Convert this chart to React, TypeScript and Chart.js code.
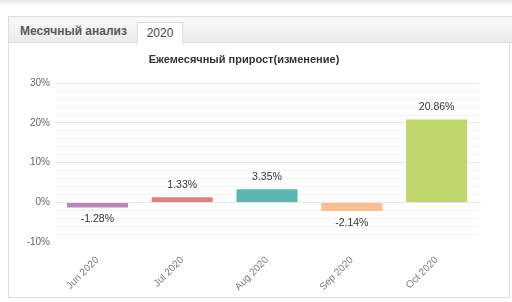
import React, { useEffect, useRef } from "react";
import { Chart, registerables } from "chart.js";

Chart.register(...registerables);

const categories = ["Jun 2020", "Jul 2020", "Aug 2020", "Sep 2020", "Oct 2020"];
const values = [-1.28, 1.33, 3.35, -2.14, 20.86];
const barColors = ["#b887b9", "#e07f7f", "#5cb5b1", "#ffbd93", "#bfd66d"];
const yMin = -10;
const yMax = 30;
const titleText = "Ежемесячный прирост(изменение)";
const FONT = "'Liberation Sans', Arial, sans-serif";

const labelPlugin = {
  id: "valueLabels",
  afterDatasetsDraw(chart: any) {
    const ctx = chart.ctx;
    const meta = chart.getDatasetMeta(0);
    ctx.save();
    ctx.font = "10.5px " + FONT;
    ctx.fillStyle = "#333";
    ctx.textAlign = "center";
    ctx.textBaseline = "middle";
    meta.data.forEach((bar: any, i: number) => {
      const v = values[i];
      const y = v >= 0 ? Math.min(bar.y, bar.base) - 12 : Math.max(bar.y, bar.base) + 12;
      ctx.fillText(v.toFixed(2) + "%", bar.x, y);
    });
    ctx.restore();
  },
};

export default function App() {
  const ref = useRef<HTMLCanvasElement>(null);
  useEffect(() => {
    document.body.style.margin = "0";
    const chart = new Chart(ref.current!, {
      type: "bar",
      data: {
        labels: categories,
        datasets: [
          {
            data: values,
            backgroundColor: barColors,
            borderWidth: 0,
            barPercentage: 0.9,
            categoryPercentage: 0.8,
          },
        ],
      },
      options: {
        animation: false,
        responsive: false,
        maintainAspectRatio: false,
        layout: { padding: { left: 0, right: 30, top: 0, bottom: 0 } },
        plugins: {
          legend: { display: false },
          tooltip: { enabled: false },
          title: {
            display: true,
            text: titleText,
            color: "#333",
            font: { size: 11, weight: "bold", family: FONT },
            padding: { top: 8, bottom: 17 },
          },
        },
        scales: {
          x: {
            grid: { display: false },
            border: { display: false },
            ticks: {
              color: "#777",
              font: { size: 10, family: FONT },
              minRotation: 45,
              maxRotation: 45,
              padding: 4,
            },
          },
          y: {
            min: yMin,
            max: yMax,
            border: { display: false },
            afterFit(scale: any) {
              scale.width = 46;
            },
            grid: {
              drawTicks: false,
              color: (c: any) => {
                const v = c.tick ? c.tick.value : 0;
                if (v === yMin) return "rgba(0,0,0,0)";
                return v % 10 === 0 ? "#e6e6e6" : "#f3f3f3";
              },
            },
            ticks: {
              stepSize: 2,
              autoSkip: false,
              color: "#666",
              padding: 5,
              font: { size: 10, family: FONT },
              callback: (v: any) => (Number(v) % 10 === 0 ? v + "%" : ""),
            },
          },
        },
      },
      plugins: [labelPlugin],
    });
    return () => chart.destroy();
  }, []);

  return (
    <div style={{ position: "relative", width: 512, height: 302, background: "#fff", fontFamily: FONT, overflow: "hidden" }}>
      <div style={{ position: "absolute", left: 0, top: 0, width: 512, height: 6, background: "linear-gradient(#e8e8e8, #ffffff)" }} />
      <div style={{ position: "absolute", left: 8, top: 16, width: 502, height: 282, border: "1px solid #dddddd", boxSizing: "border-box" }} />
      <div style={{ position: "absolute", left: 9, top: 16, width: 503, height: 27, background: "linear-gradient(#f8f8f8, #ebebeb)", borderTop: "1px solid #dddddd", borderBottom: "1px solid #dddddd", boxSizing: "border-box" }} />
      <div style={{ position: "absolute", left: 20, top: 24, fontSize: 12, fontWeight: "bold", color: "#5a5a5a" }}>
        Месячный анализ
      </div>
      <div style={{ position: "absolute", left: 137, top: 22, width: 46, height: 22, background: "#fff", border: "1px solid #dddddd", borderBottom: "none", boxSizing: "border-box", fontSize: 12, color: "#444", textAlign: "center", lineHeight: "21px" }}>
        2020
      </div>
      <canvas ref={ref} width={500} height={252} style={{ position: "absolute", left: 9, top: 45, width: 500, height: 252 }} />
    </div>
  );
}
